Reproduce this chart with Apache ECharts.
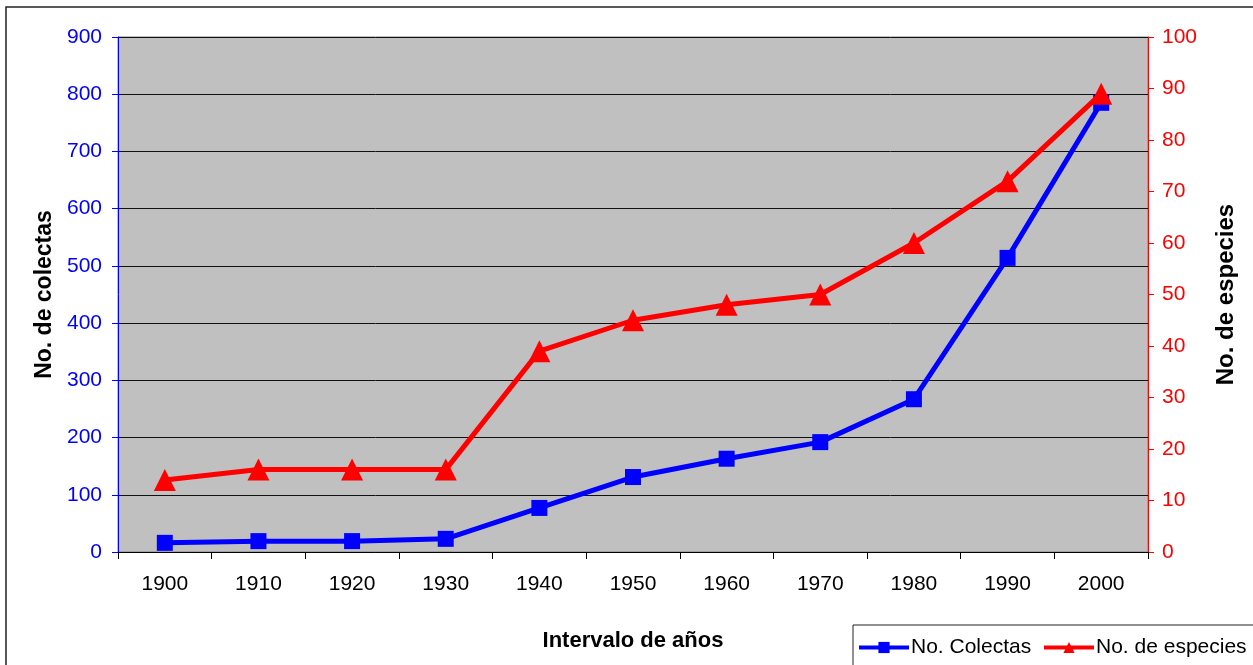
<!DOCTYPE html>
<html>
<head>
<meta charset="utf-8">
<script src="https://cdn.jsdelivr.net/npm/echarts@6/dist/echarts.min.js"></script>
<style>html,body{margin:0;padding:0;background:#fff}#c{width:1253px;height:665px}</style>
</head>
<body>
<div id="c"></div>
<script>
const categories = ['1900','1910','1920','1930','1940','1950','1960','1970','1980','1990','2000'];
const colectas = [16, 19, 19, 23, 77, 131, 163, 192, 267, 514, 785];
const especies = [14, 16, 16, 16, 39, 45, 48, 50, 60, 72, 89];
const FONT = 'Liberation Sans, Arial, sans-serif';

const chart = echarts.init(document.getElementById('c'), null, {renderer: 'canvas'});
const legendText = {fontSize: 21, color: '#000', fontFamily: FONT, padding: [0, 0, 0, -3]};
chart.setOption({
  animation: false,
  backgroundColor: '#fff',
  textStyle: {fontFamily: FONT},
  grid: {left: 118, right: 105, top: 37, bottom: 113, show: true, backgroundColor: '#c0c0c0', borderColor: '#808080', borderWidth: 1},
  graphic: [
    {type: 'rect', shape: {x: 6, y: 7, width: 1300, height: 700}, style: {fill: 'none', stroke: '#222', lineWidth: 1.5}, silent: true, z: -1},
    {type: 'rect', shape: {x: 853, y: 625, width: 420, height: 60}, style: {fill: '#fff', stroke: '#222', lineWidth: 1}, silent: true, z: 1}
  ],
  legend: [
    {
      left: 857, top: 637, itemWidth: 50, itemHeight: 14, z: 10, padding: 0,
      textStyle: legendText,
      data: [{name: 'No. Colectas', lineStyle: {width: 4, color: '#0000ff'}}]
    },
    {
      left: 1042, top: 637, itemWidth: 50, itemHeight: 14, z: 10, padding: 0,
      textStyle: legendText,
      data: [{name: 'No. de especies', lineStyle: {width: 4, color: '#ff0000'}}]
    }
  ],
  xAxis: {
    type: 'category', data: categories, boundaryGap: true,
    name: 'Intervalo de años', nameLocation: 'middle', nameGap: 78,
    nameTextStyle: {fontSize: 22, fontWeight: 'bold', color: '#000', fontFamily: FONT},
    axisLine: {lineStyle: {color: '#000', width: 1}},
    axisTick: {show: true, length: 7, lineStyle: {color: '#000'}},
    axisLabel: {fontSize: 21, color: '#000', margin: 22, fontFamily: FONT}
  },
  yAxis: [
    {
      type: 'value', min: 0, max: 900, interval: 100, position: 'left',
      name: 'No. de colectas', nameLocation: 'middle', nameGap: 62, nameRotate: 90,
      nameTextStyle: {fontSize: 23, fontWeight: 'bold', color: '#000', fontFamily: FONT},
      axisLine: {show: true, lineStyle: {color: '#0000ff', width: 1}},
      axisTick: {show: true, length: 6, lineStyle: {color: '#0000ff'}},
      axisLabel: {fontSize: 21, color: '#0000ff', margin: 16, fontFamily: FONT},
      splitLine: {show: true, lineStyle: {color: '#111', width: 1}}
    },
    {
      type: 'value', min: 0, max: 100, interval: 10, position: 'right',
      name: 'No. de especies', nameLocation: 'middle', nameGap: 66, nameRotate: 90,
      nameTextStyle: {fontSize: 24, fontWeight: 'bold', color: '#000', fontFamily: FONT},
      axisLine: {show: true, lineStyle: {color: '#ff0000', width: 1}},
      axisTick: {show: true, length: 6, lineStyle: {color: '#ff0000'}},
      axisLabel: {fontSize: 21, color: '#ff0000', margin: 14, fontFamily: FONT},
      splitLine: {show: false}
    }
  ],
  series: [
    {
      name: 'No. Colectas', type: 'line', yAxisIndex: 0, data: colectas,
      symbol: 'rect', symbolSize: 16,
      lineStyle: {color: '#0000ff', width: 5},
      itemStyle: {color: '#0000ff'}, z: 3
    },
    {
      name: 'No. de especies', type: 'line', yAxisIndex: 1, data: especies,
      symbol: 'triangle', symbolSize: 22,
      lineStyle: {color: '#ff0000', width: 5},
      itemStyle: {color: '#ff0000'}, z: 4
    }
  ]
});
</script>
</body>
</html>
